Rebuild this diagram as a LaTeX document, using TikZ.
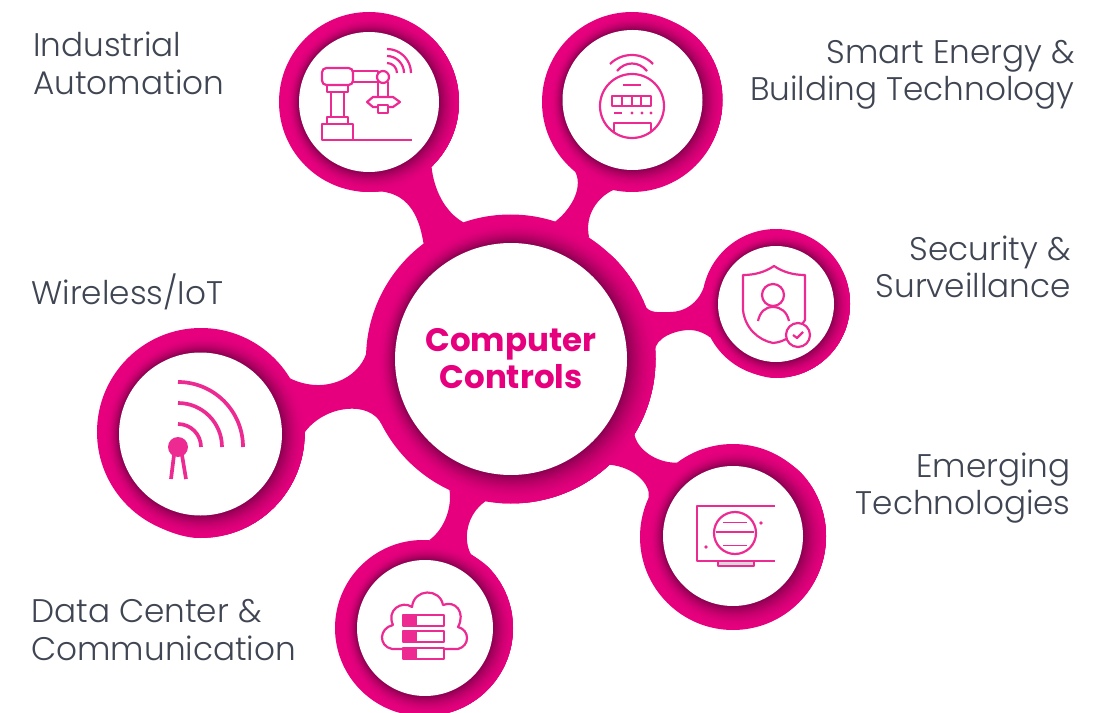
\documentclass[tikz,border=0pt]{standalone}
\usepackage{fontspec}
\setmainfont{Poppins}
\newfontfamily\lightfont{Poppins Light}
\definecolor{pink}{HTML}{E6007E}
\definecolor{pinkdark}{HTML}{86004E}
\definecolor{iconpink}{HTML}{EC2A92}
\definecolor{labelgrey}{HTML}{3F4552}
\def\u{0.02cm}
\tikzset{
  ringout/.style={circle,fill=pink,inner sep=0pt,outer sep=0pt},
  ringin/.style={circle,fill=white,inner sep=0pt,outer sep=0pt},
  spoke/.style={fill=pink},
  icon/.style={draw=iconpink,line width=1.25pt,line join=round},
  iconbold/.style={draw=iconpink,line width=2.1pt},
  tag/.style={text=labelgrey,inner sep=0pt,font=\lightfont\fontsize{18.6pt}{21.3pt}\selectfont}
}
% x, y, inner radius, outer radius
\newcommand{\ringshade}[4]{
  \begin{scope}
  \clip (#1,#2) circle [radius=#4];
  \foreach \i in {0,...,24}{
    \pgfmathsetmacro\sw{(#4-#3)*0.9}
    \pgfmathsetmacro\rr{#3+\sw*(1-\i/24)}
    \pgfmathsetmacro\ox{#1+0.3*\sw*(1-\i/24)}
    \pgfmathsetmacro\oy{#2+0.14*\sw*(1-\i/24)}
    \pgfmathsetmacro\mixv{100*(\i/24)*(\i/24)}
    \fill[pinkdark!\mixv!pink] (\ox,\oy) circle [radius=\rr];
  }
  \end{scope}
}
\begin{document}
\begin{tikzpicture}[x=0.02cm,y=-0.02cm]
\clip (0,0) rectangle (1103,713);
% outer rings
\node [ringout,minimum size=289*\u] (hub) at(510.5,359){};
\node [ringout,minimum size=180*\u] (ind) at(369,102){};
\node [ringout,minimum size=180*\u] (energy) at(632,102){};
\node [ringout,minimum size=148*\u] (sec) at(776,303){};
\node [ringout,minimum size=186*\u] (emerg) at(733,537){};
\node [ringout,minimum size=176*\u] (data) at(423,628){};
\node [ringout,minimum size=208*\u] (wifi) at(201,432){};
% spokes
\fill[spoke] (hub.127) .. controls (420,222) and (412,194) .. (ind.-83) -- (ind.-46) .. controls (434,190) and (445,212) .. (hub.109) -- cycle;
\fill[spoke] (hub.72) .. controls (568,212) and (584,190) .. (energy.231) -- (energy.-102) .. controls (598,197) and (584,215) .. (hub.57) -- cycle;
\fill[spoke] (hub.22) .. controls (649,314) and (660,312) .. (670,312) .. controls (685,312) and (698,303) .. (sec.168) -- (sec.208) .. controls (703,332) and (695,330) .. (690,330) .. controls (675,330) and (655,338) .. (hub.3) -- cycle;
\fill[spoke] (hub.-31) .. controls (636,448) and (655,463) .. (emerg.127) -- (emerg.155) .. controls (651,485) and (635,467) .. (hub.-47) -- cycle;
\fill[spoke] (hub.-115) .. controls (452,505) and (446,528) .. (data.86) -- (data.57) .. controls (463,540) and (466,515) .. (hub.-100) -- cycle;
\fill[spoke] (hub.178) .. controls (358,378) and (325,395) .. (wifi.31) -- (wifi.0) .. controls (325,405) and (370,400) .. (hub.207) -- cycle;
% inner shadows
\ringshade{511}{359}{116}{144.5}
\ringshade{369}{102}{70}{90}
\ringshade{632.5}{100}{70}{90}
\ringshade{776}{304}{58}{74}
\ringshade{733}{536}{70}{93}
\ringshade{425}{628}{68}{88}
\ringshade{200.5}{434}{81.5}{104}
% white discs
\node [ringin,minimum size=232*\u,text=pink,align=center,font=\bfseries\fontsize{18.5pt}{21pt}\selectfont] (hubin) at(511,359){Computer\\Controls};
\node [ringin,minimum size=140*\u] (indin) at(369,102){};
\node [ringin,minimum size=140*\u] (energyin) at(632.5,100){};
\node [ringin,minimum size=116*\u] (secin) at(776,304){};
\node [ringin,minimum size=140*\u] (emergin) at(733,536){};
\node [ringin,minimum size=136*\u] (datain) at(425,628){};
\node [ringin,minimum size=163*\u] (wifiin) at(200.5,434){};
% robot arm
\draw[icon] (322,124) rectangle (353,140);
\draw[icon] (353,140) -- (412,140);
\draw[icon] (327,117) rectangle (348,124);
\draw[icon] (331,92) rectangle (344,117);
\draw[icon] (327,85) rectangle (348,92);
\draw[icon,rounded corners=2.5pt] (322,68) rectangle (353,85);
\draw[icon] (353,71) rectangle (378,82);
\draw[icon] (378,82) rectangle (388,97);
\draw[icon,fill=white] (383,77) circle [radius=6];
\draw[icon] (367,102) -- (373,97) -- (393,97) -- (400,102) -- (393,107) -- (373,107) -- cycle;
\draw[icon,fill=white] (378,105) rectangle (388,113);
\foreach \r in {10,17,24}{
  \draw[icon] (387,73)++(0,-\r) arc [start angle=-90,end angle=0,radius=\r];
}
% smart meter
\draw[icon] (632,106) circle [radius=32];
\draw[icon] (610,64) .. controls (622,52) and (642,52) .. (653,64);
\draw[icon] (617,71) .. controls (625,61) and (639,61) .. (647,71);
\draw[icon] (623,85) -- (641,85);
\draw[icon] (612,96) rectangle (651,106);
\foreach \x in {622,632,641}{
  \draw[icon] (\x,96) -- (\x,106);
}
\draw[icon] (614,113) -- (622,113);
\foreach \x in {632,642,651}{
  \fill[iconpink] (\x,113) circle [radius=1.7];
}
\draw[icon] (614,132) -- (614,123) -- (651,123) -- (651,132);
% shield
\draw[icon] (774,266) .. controls (765,272) and (755,275) .. (743,275) -- (743,310) .. controls (745,328) and (758,340) .. (773,343) .. controls (785,342) and (795,335) .. (805,320) -- (805,275) .. controls (793,275) and (783,272) .. (774,266) -- cycle;
\draw[icon] (773,295) circle [radius=11];
\draw[icon] (758,321) .. controls (760,312) and (765,307) .. (773,307) .. controls (781,307) and (787,312) .. (789,321);
\begin{scope}
\clip (780,320) rectangle (811,350);
\draw[icon,fill=white] (798,335) circle [radius=12];
\end{scope}
\draw[icon] (793,335) -- (797,338) -- (803,332);
% monitor
\draw[icon] (775,506) -- (697,506) -- (697,561) -- (775,561);
\draw[icon,fill=black!15] (718,561) rectangle (754,566);
\draw[icon] (735,533) circle [radius=21];
\draw[icon] (716,532) -- (754,532);
\draw[icon,line width=0.5pt] (723,522) -- (747,522);
\draw[icon,line width=0.5pt] (723,545) -- (747,545);
\fill[iconpink] (761,523) circle [radius=1.8];
\fill[iconpink] (706,547) circle [radius=1.8];
% cloud
\draw[icon] (392,649) .. controls (378,646) and (379,628) .. (393,625) .. controls (386,610) and (402,600) .. (412,607) .. controls (414,588) and (440,588) .. (443,605) .. controls (455,600) and (466,612) .. (458,627) .. controls (470,630) and (470,646) .. (458,649) -- cycle;
\foreach \y in {615,631,648}{
  \draw[icon,fill=white] (403,\y) rectangle (444,\y+11);
  \fill[iconpink] (403,\y) rectangle (417,\y+11);
}
% antenna
\fill[iconpink] (178,447) circle [radius=10];
\draw[iconbold] (174,455) -- (171,479);
\draw[iconbold] (182,455) -- (186,479);
\foreach \r in {23,44,65}{
  \draw[iconbold] (178,447)++(0,-\r) arc [start angle=-90,end angle=0,radius=\r];
}
% labels
\node [tag,anchor=west,align=left] (indlabel) at(33,63.5){Industrial\\Automation};
\node [tag,anchor=east,align=right] (energylabel) at(1075,75){Smart Energy \&\\Building Technology};
\node [tag,anchor=east,align=right] (seclabel) at(1071,267){Security \&\\Surveillance};
\node [tag,anchor=east,align=right] (emerglabel) at(1071,488){Emerging\\Technologies};
\node [tag,anchor=west,align=left] (wifilabel) at(31,292){Wireless/IoT};
\node [tag,anchor=west,align=left] (datalabel) at(31,630){Data Center \&\\Communication};
\end{tikzpicture}
\end{document}
